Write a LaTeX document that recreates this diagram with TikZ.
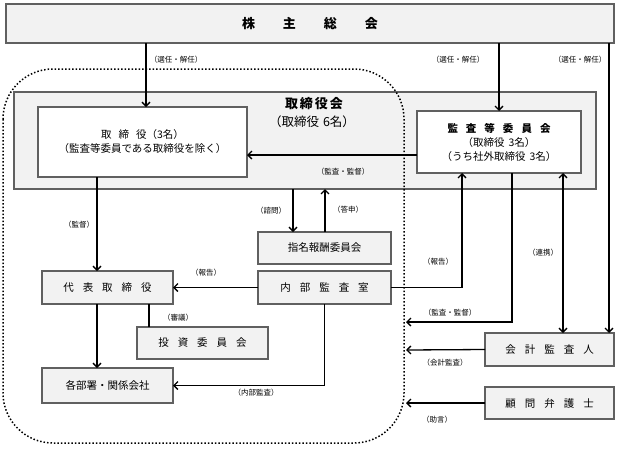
\documentclass[tikz,border=0pt]{standalone}
\usepackage{fontspec}
\setmainfont{Noto Sans CJK JP}
\usetikzlibrary{arrows.meta}
\definecolor{boxfill}{HTML}{F2F2F2}
\definecolor{boxline}{HTML}{606060}
\newcommand\gp[1]{\hspace{#1}}
\begin{document}
\begin{tikzpicture}[x=1pt,y=-1pt,
  every node/.style={inner sep=0pt,outer sep=0pt},
  gbox/.style={draw=boxline,line width=1.2pt,fill=boxfill,font=\fontsize{10.5}{14}\selectfont,align=center},
  wbox/.style={gbox,fill=white},
  arr/.style={line width=1.3pt,-{Straight Barb[length=4pt,width=8pt]}},
  dbl/.style={line width=1.3pt,{Straight Barb[length=4pt,width=8pt]}-{Straight Barb[length=4pt,width=8pt]}},
  plain/.style={line width=1.3pt},
  lbl/.style={font=\fontsize{7.5}{9}\selectfont},
  rim/.style={dotted,line width=1.5pt}]
\useasboundingbox[fill=white] (0,0) rectangle (618,448);
% boxes
\node[gbox,minimum width=608,minimum height=39,font=\fontsize{13}{15}\selectfont\bfseries] (gm) at (310,23.5) {株\gp{28pt}主\gp{28pt}総\gp{28pt}会};
\node[gbox,minimum width=582,minimum height=97] (board) at (305,140.5) {};
% dotted boundary (drawn over the board)
\draw[rim,rounded corners=50pt] (3,69) rectangle (404,443);
\node[font=\fontsize{13}{15}\selectfont\bfseries] (boardt) at (314,104) {取\gp{2pt}締\gp{2pt}役\gp{2pt}会};
\node[font=\fontsize{12.5}{15}\selectfont] (boards) at (312,122) {（取締役\gp{4pt}6名）};
\node[wbox,minimum width=209,minimum height=70] (tori) at (142.5,142) {取\gp{7pt}締\gp{7pt}役（3名）\\（監査等委員である取締役を除く）};
\node[wbox,minimum width=164,minimum height=62] (audit) at (499,142) {{\bfseries 監\gp{8pt}査\gp{8pt}等\gp{8pt}委\gp{8pt}員\gp{8pt}会}\\（取締役\gp{4pt}3名）\\（うち社外取締役\gp{4pt}3名）};
\node[gbox,minimum width=133,minimum height=32] (nom) at (324.5,248) {指名報酬委員会};
\node[gbox,minimum width=133,minimum height=33] (ia) at (324.5,287.5) {内\gp{9pt}部\gp{9pt}監\gp{9pt}査\gp{9pt}室};
\node[gbox,minimum width=131,minimum height=33] (rep) at (107.5,287.5) {代\gp{9pt}表\gp{9pt}取\gp{9pt}締\gp{9pt}役};
\node[gbox,minimum width=131,minimum height=32] (inv) at (202.5,343) {投\gp{9pt}資\gp{9pt}委\gp{9pt}員\gp{9pt}会};
\node[gbox,minimum width=131,minimum height=35] (dept) at (107.5,385.5) {各部署・関係会社};
\node[gbox,minimum width=129,minimum height=33] (acc) at (549.5,349.5) {会\gp{9pt}計\gp{9pt}監\gp{9pt}査\gp{9pt}人};
\node[gbox,minimum width=129,minimum height=32] (law) at (549.5,403) {顧\gp{9pt}問\gp{9pt}弁\gp{9pt}護\gp{9pt}士};
% free ends at the dotted boundary
\coordinate (b1) at (406,322);
\coordinate (b2) at (406,350);
\coordinate (b3) at (406,403);
% connectors
\draw[arr] (gm.south -| 146,0) -- (tori.north -| 146,0);
\draw[arr] (gm.south -| audit.north) -- (audit.north);
\draw[arr] (gm.south -| 609,0) -- (acc.north -| 609,0);
\draw[arr] (audit.west |- 0,155) -- (tori.east |- 0,155);
\draw[arr] (tori.south -| 97,0) -- (rep.north -| 97,0);
\draw[arr] (board.south -| 293,0) -- (nom.north -| 293,0);
\draw[arr] (nom.north -| 325,0) -- (board.south -| 325,0);
\draw[arr] (ia.west) -- (rep.east);
\draw[plain] (rep.south -| 149,0) -- (inv.north -| 149,0);
\draw[arr] (rep.south -| 97,0) -- (dept.north -| 97,0);
\draw[arr] (ia.south) |- (dept.east);
\draw[arr] (ia.east) -| (audit.south -| 462,0);
\draw[arr] (audit.south -| 512,0) |- (b1);
\draw[dbl] (audit.south -| 563,0) -- (acc.north -| 563,0);
\draw[arr] (acc.west) -- (b2);
\draw[arr] (law.west) -- (b3);
% labels
\node[lbl] (l1) at (176,60) {（選任・解任）};
\node[lbl] (l2) at (458,60) {（選任・解任）};
\node[lbl] (l3) at (580,60) {（選任・解任）};
\node[lbl] (l4) at (343,172) {（監査・監督）};
\node[lbl] (l5) at (79,225) {（監督）};
\node[lbl] (l6) at (271,211) {（諮問）};
\node[lbl] (l7) at (348,210) {（答申）};
\node[lbl] (l8) at (206,273) {（報告）};
\node[lbl] (l9) at (178,318) {（審議）};
\node[lbl] (l10) at (256,393) {（内部監査）};
\node[lbl] (l11) at (438,262) {（報告）};
\node[lbl] (l12) at (450,313) {（監査・監督）};
\node[lbl] (l13) at (543,253) {（連携）};
\node[lbl] (l14) at (445,363) {（会計監査）};
\node[lbl] (l15) at (437,420) {（助言）};
\end{tikzpicture}
\end{document}
